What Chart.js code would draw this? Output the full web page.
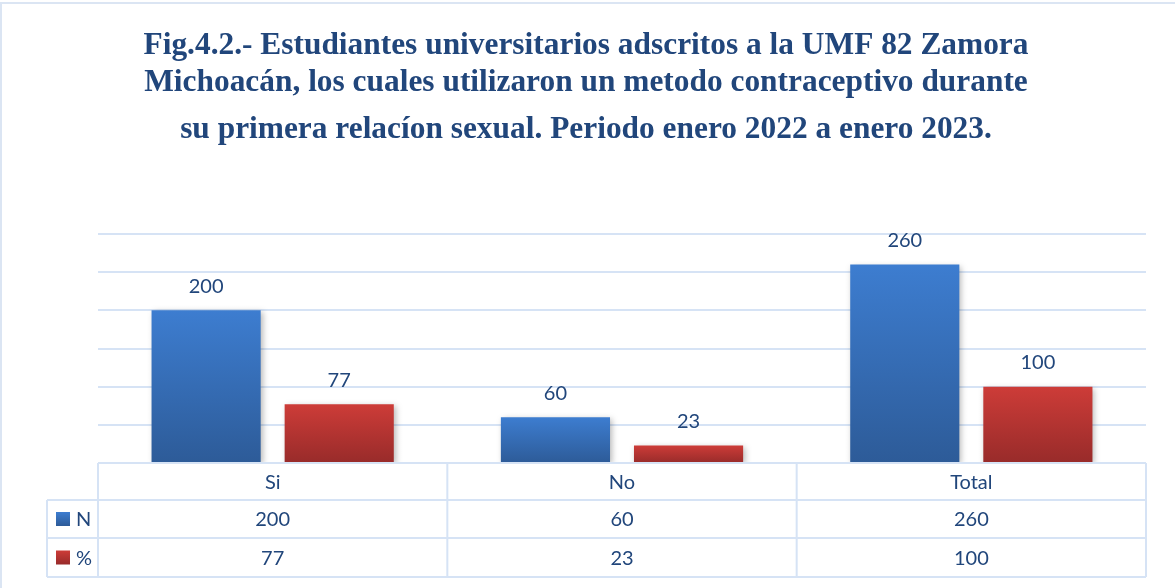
<!DOCTYPE html>
<html>
<head>
<meta charset="utf-8">
<script src="https://cdn.jsdelivr.net/npm/chart.js@4"></script>
<style>
  html, body { margin: 0; padding: 0; background: #fff; }
  #wrap { width: 1175px; height: 588px; position: relative; }
</style>
</head>
<body>
<div id="wrap"><canvas id="grafico" width="1175" height="588"></canvas></div>
<script>
// datos
const categorias = ['Si', 'No', 'Total'];
const valoresN = [200, 60, 260];
const valoresPct = [77, 23, 100];
const etiquetasSeries = ['N', '%'];
const lineasTitulo = [
  'Fig.4.2.- Estudiantes universitarios adscritos a la UMF 82 Zamora',
  'Michoacán, los cuales utilizaron un metodo contraceptivo durante',
  'su primera relacíon sexual. Periodo enero 2022 a enero 2023.'
];

const azulTexto = '#21467b';
const lineaTabla = '#d6e3f5';
const fuente = 'Lato, "Noto Sans", sans-serif';

function degradado(ctx, y0, y1, arriba, abajo) {
  const g = ctx.createLinearGradient(0, y0, 0, y1);
  g.addColorStop(0, arriba);
  g.addColorStop(1, abajo);
  return g;
}

function colorBarra(arriba, abajo) {
  return function (context) {
    const chart = context.chart;
    if (!chart.chartArea || !chart.scales.y) return abajo;
    const y = chart.scales.y;
    const top = y.getPixelForValue(context.raw);
    const base = y.getPixelForValue(0);
    if (!isFinite(top) || top === base) return abajo;
    return degradado(chart.ctx, top, base, arriba, abajo);
  };
}

const coloresSerie = [
  ['#3d7dd0', '#2d5b98'],
  ['#cd3c38', '#982b2a']
];

// marco + titulo
const marcoTitulo = {
  id: 'marcoTitulo',
  beforeDraw(chart) {
    const ctx = chart.ctx;
    ctx.save();
    ctx.fillStyle = '#fff';
    ctx.fillRect(0, 0, chart.width, chart.height);
    ctx.strokeStyle = '#dbe5f3';
    ctx.lineWidth = 2;
    ctx.strokeRect(1, 3, chart.width + 5, chart.height + 5);
    ctx.restore();
  },
  afterDraw(chart) {
    const ctx = chart.ctx;
    ctx.save();
    ctx.font = 'bold 32px "Liberation Serif", "Times New Roman", serif';
    ctx.fillStyle = azulTexto;
    ctx.textBaseline = 'alphabetic';
    const ancho = ctx.measureText(lineasTitulo[0]).width;
    const esc = 885 / ancho;
    const baselines = [54, 91, 138];
    const cx = 586;
    lineasTitulo.forEach((t, i) => {
      ctx.save();
      ctx.translate(cx, baselines[i]);
      ctx.scale(esc, 1);
      ctx.textAlign = 'center';
      ctx.fillText(t, 0, 0);
      ctx.restore();
    });
    ctx.restore();
  }
};

// sombras de barras
const sombra = {
  id: 'sombra',
  beforeDatasetsDraw(chart) {
    const ctx = chart.ctx;
    ctx.save();
    ctx.shadowColor = 'rgba(0,0,0,0.28)';
    ctx.shadowBlur = 6;
    ctx.shadowOffsetX = 2;
    ctx.shadowOffsetY = 2;
  },
  afterDatasetsDraw(chart) {
    chart.ctx.restore();
  }
};

// etiquetas de valores
const etiquetas = {
  id: 'etiquetas',
  afterDatasetsDraw(chart) {
    const ctx = chart.ctx;
    ctx.save();
    ctx.font = '20px ' + fuente;
    ctx.fillStyle = azulTexto;
    ctx.textAlign = 'center';
    ctx.textBaseline = 'middle';
    chart.data.datasets.forEach((ds, di) => {
      chart.getDatasetMeta(di).data.forEach((bar, i) => {
        ctx.fillText(String(ds.data[i]), bar.x, bar.y - 24);
      });
    });
    ctx.restore();
  }
};

// tabla de datos
const tabla = {
  id: 'tabla',
  afterDraw(chart) {
    const ctx = chart.ctx;
    const x = chart.scales.x;
    const area = chart.chartArea;
    const n = categorias.length;
    const paso = (area.right - area.left) / n;
    const bordes = [];
    for (let i = 0; i <= n; i++) bordes.push(area.left + paso * i);
    const filas = [area.bottom, 500, 538, 577];
    const izq = 47;

    ctx.save();
    ctx.strokeStyle = lineaTabla;
    ctx.lineWidth = 2;
    ctx.beginPath();
    ctx.moveTo(area.left, filas[0]); ctx.lineTo(area.right, filas[0]);
    for (let r = 1; r < filas.length; r++) {
      ctx.moveTo(izq, filas[r]); ctx.lineTo(area.right, filas[r]);
    }
    bordes.forEach(b => { ctx.moveTo(b, filas[0]); ctx.lineTo(b, filas[3]); });
    ctx.moveTo(izq, filas[1]); ctx.lineTo(izq, filas[3]);
    ctx.stroke();

    ctx.font = '20px ' + fuente;
    ctx.fillStyle = azulTexto;
    ctx.textAlign = 'center';
    ctx.textBaseline = 'middle';
    categorias.forEach((c, i) => {
      const cx = x.getPixelForValue(i);
      ctx.fillText(c, cx, (filas[0] + filas[1]) / 2 + 1);
      chart.data.datasets.forEach((ds, di) => {
        ctx.fillText(String(ds.data[i]), cx, (filas[di + 1] + filas[di + 2]) / 2 + 1);
      });
    });

    // claves de leyenda
    chart.data.datasets.forEach((ds, di) => {
      const cy = (filas[di + 1] + filas[di + 2]) / 2;
      const col = coloresSerie[di];
      ctx.fillStyle = degradado(ctx, cy - 7, cy + 7, col[0], col[1]);
      ctx.fillRect(56, cy - 7, 14, 14);
      ctx.fillStyle = azulTexto;
      ctx.textAlign = 'left';
      ctx.fillText(ds.label, 76, cy + 1);
    });
    ctx.restore();
  }
};

new Chart(document.getElementById('grafico'), {
  type: 'bar',
  data: {
    labels: categorias,
    datasets: [
      {
        label: etiquetasSeries[0],
        data: valoresN,
        backgroundColor: colorBarra(coloresSerie[0][0], coloresSerie[0][1])
      },
      {
        label: etiquetasSeries[1],
        data: valoresPct,
        backgroundColor: colorBarra(coloresSerie[1][0], coloresSerie[1][1])
      }
    ]
  },
  options: {
    responsive: false,
    animation: false,
    devicePixelRatio: 1,
    categoryPercentage: 0.762,
    barPercentage: 0.82,
    layout: { padding: { left: 98, right: 29, top: 234, bottom: 125 } },
    plugins: {
      legend: { display: false },
      title: { display: false },
      tooltip: { enabled: false }
    },
    scales: {
      x: { display: false },
      y: {
        min: 0,
        max: 300,
        ticks: { display: false, stepSize: 50 },
        border: { display: false },
        grid: { color: lineaTabla, lineWidth: 2, drawTicks: false }
      }
    }
  },
  plugins: [marcoTitulo, sombra, etiquetas, tabla]
});
</script>
</body>
</html>
